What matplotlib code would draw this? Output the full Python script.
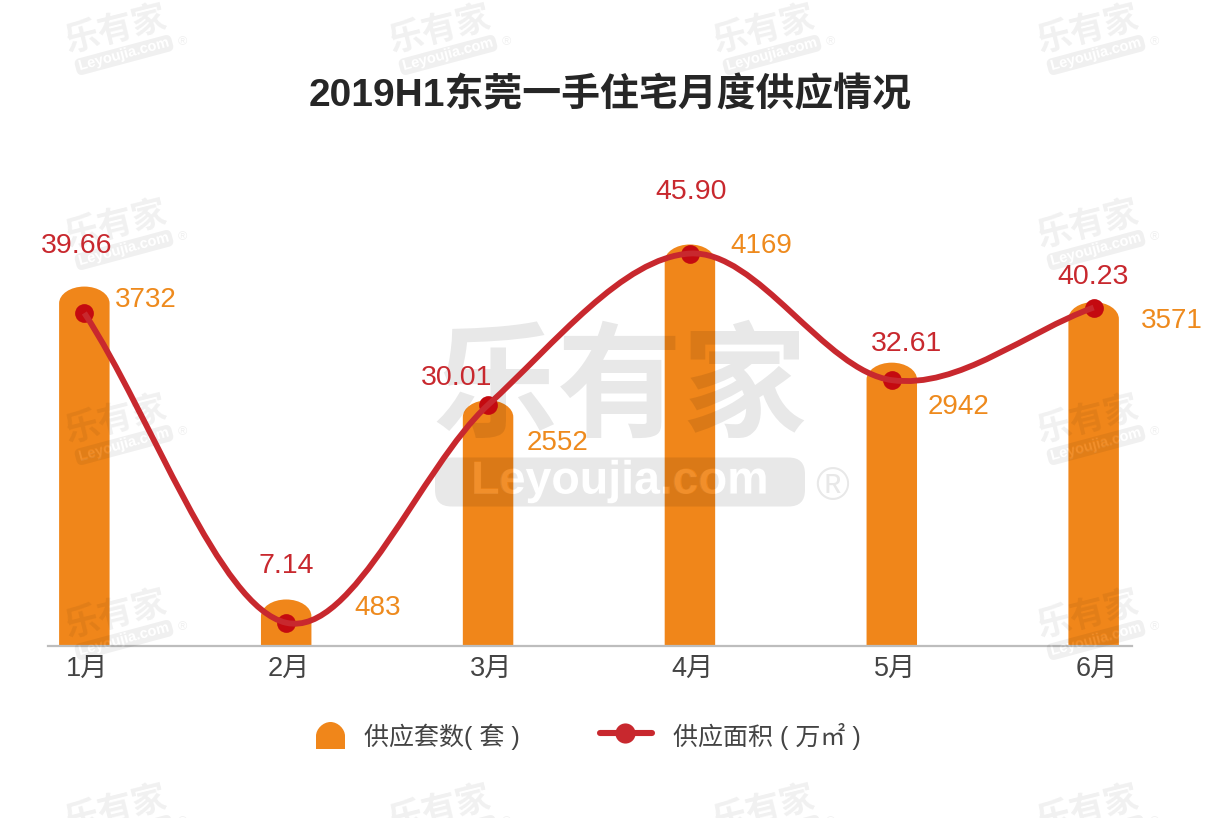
import numpy as np
import matplotlib
matplotlib.use("Agg")
import matplotlib.pyplot as plt
from matplotlib.path import Path
from matplotlib.patches import PathPatch, FancyBboxPatch
from matplotlib.lines import Line2D
from matplotlib.textpath import TextPath
from matplotlib.font_manager import FontProperties
from matplotlib.transforms import Affine2D, ScaledTranslation

months = ["1月", "2月", "3月", "4月", "5月", "6月"]
supply_units = [3732, 483, 2552, 4169, 2942, 3571]
supply_area = [39.66, 7.14, 30.01, 45.90, 32.61, 40.23]

W, H = 1221, 818
plt.rcParams["font.family"] = ["Liberation Sans", "Noto Sans CJK SC", "DejaVu Sans"]
ORANGE, RED, DARK, TXT = "#F0861A", "#C8282E", "#C40A10", "#444444"

fig = plt.figure(figsize=(W / 100, H / 100), dpi=100, facecolor="white")
PX = Affine2D().scale(1, -1).translate(0, H)


def fx(x):
    return x / W


def fy(y):
    return 1 - y / H


def ptxt(x, y, s, size, color, ha="center", va="center", rot=0, weight="normal", z=6):
    fig.text(fx(x), fy(y), s, fontsize=size, color=color, ha=ha, va=va, rotation=rot,
             rotation_mode="anchor", fontweight=weight, zorder=z)


# axes
ax = fig.add_axes([fx(48), fy(646), fx(1132 - 48), fy(150) - fy(646)], zorder=1)
ax.set_xlim(-0.18, 5.19)
ax.set_ylim(0, 5150)
ax.patch.set_visible(False)
for s in ["top", "left", "right"]:
    ax.spines[s].set_visible(False)
ax.spines["bottom"].set_color("#BDBDBD")
ax.spines["bottom"].set_linewidth(1.6)
ax.set_yticks([])
ax.set_xticks(range(len(months)))
ax.set_xticklabels(months, fontsize=19.5, color=TXT)
ax.tick_params(axis="x", length=0, pad=7)
for lab in ax.get_xticklabels():
    lab.set_transform(lab.get_transform() + ScaledTranslation(3 / 100, 0, fig.dpi_scale_trans))


def head_bar(x, v, w=0.125, head=175):
    k = 0.5523
    s = v - head
    verts = [(x - w, 0), (x - w, s), (x - w, s + k * head), (x - k * w, v), (x, v),
             (x + k * w, v), (x + w, s + k * head), (x + w, s), (x + w, 0), (x - w, 0)]
    codes = [Path.MOVETO, Path.LINETO, Path.CURVE4, Path.CURVE4, Path.CURVE4,
             Path.CURVE4, Path.CURVE4, Path.CURVE4, Path.LINETO, Path.CLOSEPOLY]
    return Path(verts, codes)


for i, v in enumerate(supply_units):
    ax.add_patch(PathPatch(head_bar(i, v), fc=ORANGE, ec="none"))

# line on the secondary scale, smoothed through the data points
ax2 = ax.twinx()
ax2.set_zorder(3)
ax2.patch.set_visible(False)
ax2.set_ylim(4.70, 56.77)
ax2.axis("off")
xs = np.arange(len(supply_area), dtype=float)
ys = np.array(supply_area)
slopes = np.gradient(ys, xs)
verts, codes = [(xs[0], ys[0])], [Path.MOVETO]
for i in range(len(xs) - 1):
    verts += [(xs[i] + 1 / 3, ys[i] + slopes[i] / 3),
              (xs[i + 1] - 1 / 3, ys[i + 1] - slopes[i + 1] / 3),
              (xs[i + 1], ys[i + 1])]
    codes += [Path.CURVE4] * 3
ax2.plot(xs, ys, ls="none", marker="o", ms=13.5, mfc=DARK, mec="none", zorder=2)
ax2.add_patch(PathPatch(Path(verts, codes), fc="none", ec=RED, lw=4.2, zorder=3, capstyle="butt"))

# value labels
area_pos = [(77, 246), (286, 566), (457, 378), (691, 192), (907, 344), (1093, 277)]
unit_pos = [(146, 300), (378, 608), (557, 443), (761, 246), (958, 407), (1172, 321)]
for (x, y), v in zip(area_pos, supply_area):
    ptxt(x, y, f"{v:.2f}", 20.5, RED)
for (x, y), v in zip(unit_pos, supply_units):
    ptxt(x, y, str(v), 20, "#EE8A1D")

# title
ptxt(610, 95, "2019H1东莞一手住宅月度供应情况", 28, "#262626", weight="bold")

# legend
icon_codes = [Path.MOVETO, Path.LINETO, Path.CURVE4, Path.CURVE4, Path.CURVE4,
              Path.CURVE4, Path.CURVE4, Path.CURVE4, Path.LINETO, Path.CLOSEPOLY]
icon_verts = [(316, 749), (316, 736), (316, 729), (323, 722), (330.5, 722), (338, 722),
              (345, 729), (345, 736), (345, 749), (316, 749)]
fig.add_artist(PathPatch(Path(icon_verts, icon_codes), fc=ORANGE, ec="none", transform=PX, zorder=5))
fig.add_artist(Line2D([600, 652], [733, 733], color=RED, lw=4.4, solid_capstyle="round",
                      transform=PX, zorder=5))
fig.add_artist(Line2D([625], [733], color=RED, marker="o", ms=14.5, mec="none", ls="none",
                      transform=PX, zorder=5))
ptxt(364, 737, "供应套数( 套 )", 18, TXT, ha="left")
ptxt(673, 736, "供应面积 ( 万㎡ )", 18, TXT, ha="left")


# watermarks: the pill has the lettering cut out of it, so the bars show through
def pill(cx, cy, w, h, rot, fc, z, word=None, word_pt=None):
    box = FancyBboxPatch((-w / 2 + h / 3, -h / 2 + h / 3), w - 2 * h / 3, h - 2 * h / 3,
                         boxstyle=f"round,pad={h / 3}")
    outline = box.get_path()
    fp = FontProperties(family="Liberation Sans", weight="bold")
    tp = TextPath((0, 0), word, size=word_pt * 100 / 72, prop=fp)
    bb = tp.get_extents()
    tp = tp.transformed(Affine2D().translate(-(bb.x0 + bb.x1) / 2, -(bb.y0 + bb.y1) / 2 + 0.5))
    compound = Path.make_compound_path(outline, tp)
    t = Affine2D().rotate_deg(rot).scale(1, -1).translate(cx, cy) + PX
    fig.add_artist(PathPatch(compound, fc=fc, ec="none", transform=t, zorder=z))


def small_mark(cx, cy):
    c = (0, 0, 0, 0.06)
    ptxt(cx, cy + 3, "乐有家", 25, c, rot=14, weight="bold", z=2)
    pill(cx + 7, cy + 28, 100, 17, 15, c, 2, "Leyoujia.com", 10.5)
    ptxt(cx + 7, cy + 28, "Leyoujia.com", 10.5, (1, 1, 1, 0.08), rot=15, weight="bold", z=2)
    ptxt(cx + 65, cy + 15, "®", 9, c, z=2)


cols = [117, 441, 765, 1089]
rows = [27, 222, 417, 612, 807]
for r, y in enumerate(rows):
    for c, x in enumerate(cols):
        if r in (0, 4) or c in (0, 3):
            small_mark(x, y)

mark = (0, 0, 0, 0.09)
ptxt(620, 394, "乐有家", 90, mark, weight="bold", z=2)
pill(620, 482, 370, 49, 0, mark, 2, "Leyoujia.com", 33.5)
ptxt(620, 482, "Leyoujia.com", 33.5, (1, 1, 1, 0.08), weight="bold", z=2)
ptxt(832, 488, "®", 33, mark, z=2)

fig.savefig("out.png", dpi=100, facecolor="white")
